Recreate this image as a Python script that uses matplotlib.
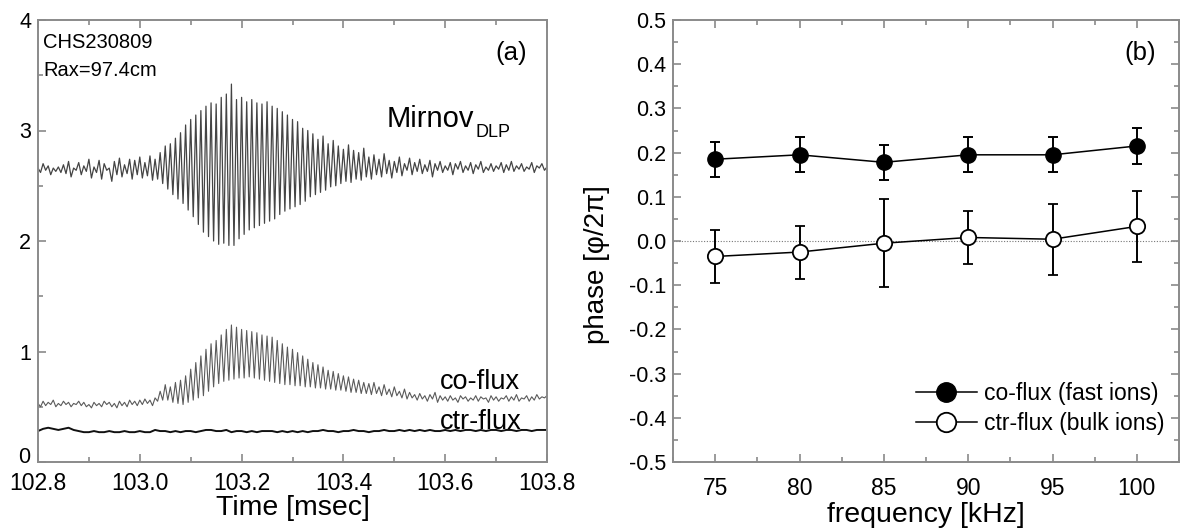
import numpy as np
import matplotlib
matplotlib.use("Agg")
import matplotlib.pyplot as plt
from matplotlib.lines import Line2D
from matplotlib.ticker import MultipleLocator, FormatStrFormatter, FuncFormatter

plt.rcParams["font.family"] = ["Liberation Sans", "DejaVu Sans"]
plt.rcParams["axes.unicode_minus"] = False

# ---- panel (a): time traces, sampled every 0.005 msec (alternating peak/trough)
t_start, t_step = 102.8, 0.005
mirnov = [
    2.66, 2.62, 2.70, 2.64, 2.68, 2.60, 2.66, 2.63, 2.67, 2.62,
    2.69, 2.61, 2.72, 2.58, 2.66, 2.64, 2.71, 2.60, 2.68, 2.63,
    2.74, 2.57, 2.67, 2.62, 2.73, 2.56, 2.70, 2.64, 2.66, 2.54,
    2.72, 2.60, 2.75, 2.58, 2.69, 2.61, 2.74, 2.56, 2.73, 2.60,
    2.76, 2.57, 2.71, 2.59, 2.77, 2.55, 2.74, 2.56, 2.80, 2.52,
    2.86, 2.47, 2.88, 2.42, 2.93, 2.38, 2.98, 2.34, 3.05, 2.28,
    3.10, 2.22, 3.14, 2.15, 3.18, 2.08, 3.22, 2.04, 3.25, 2.00,
    3.24, 1.97, 3.30, 1.98, 3.33, 1.96, 3.42, 1.96, 3.28, 2.02,
    3.30, 2.06, 3.26, 2.10, 3.28, 2.12, 3.25, 2.14, 3.24, 2.16,
    3.26, 2.18, 3.22, 2.20, 3.20, 2.24, 3.17, 2.27, 3.14, 2.29,
    3.10, 2.31, 3.08, 2.33, 3.02, 2.36, 3.00, 2.40, 2.97, 2.42,
    2.92, 2.44, 2.95, 2.46, 2.88, 2.49, 2.91, 2.50, 2.86, 2.52,
    2.83, 2.54, 2.87, 2.53, 2.82, 2.56, 2.80, 2.55, 2.84, 2.58,
    2.76, 2.56, 2.78, 2.60, 2.74, 2.58, 2.79, 2.61, 2.73, 2.57,
    2.72, 2.62, 2.76, 2.59, 2.70, 2.64, 2.75, 2.60, 2.71, 2.63,
    2.74, 2.61, 2.69, 2.63, 2.73, 2.58, 2.70, 2.64, 2.72, 2.62,
    2.68, 2.64, 2.71, 2.60, 2.70, 2.65, 2.72, 2.62, 2.68, 2.64,
    2.71, 2.61, 2.69, 2.65, 2.72, 2.62, 2.67, 2.64, 2.70, 2.63,
    2.68, 2.65, 2.71, 2.62, 2.69, 2.64, 2.72, 2.63, 2.68, 2.65,
    2.70, 2.63, 2.67, 2.65, 2.71, 2.62, 2.68, 2.66, 2.70, 2.64,
    2.67,
]
co_flux = [
    0.53, 0.50, 0.55, 0.51, 0.54, 0.52, 0.56, 0.50, 0.53, 0.51,
    0.55, 0.52, 0.54, 0.50, 0.53, 0.52, 0.55, 0.51, 0.54, 0.50,
    0.52, 0.49, 0.54, 0.51, 0.53, 0.50, 0.55, 0.52, 0.54, 0.50,
    0.53, 0.49, 0.55, 0.51, 0.54, 0.50, 0.56, 0.52, 0.55, 0.51,
    0.56, 0.52, 0.57, 0.53, 0.56, 0.51, 0.58, 0.55, 0.64, 0.56,
    0.70, 0.56, 0.68, 0.54, 0.72, 0.53, 0.74, 0.52, 0.78, 0.54,
    0.84, 0.56, 0.90, 0.58, 0.96, 0.60, 1.02, 0.64, 1.07, 0.68,
    1.10, 0.71, 1.15, 0.73, 1.20, 0.74, 1.24, 0.75, 1.22, 0.76,
    1.20, 0.76, 1.19, 0.77, 1.18, 0.76, 1.17, 0.75, 1.15, 0.74,
    1.14, 0.73, 1.13, 0.72, 1.10, 0.71, 1.07, 0.70, 1.04, 0.70,
    1.02, 0.69, 0.99, 0.69, 0.96, 0.68, 0.93, 0.68, 0.90, 0.67,
    0.88, 0.67, 0.86, 0.66, 0.83, 0.66, 0.82, 0.65, 0.80, 0.65,
    0.78, 0.64, 0.77, 0.63, 0.75, 0.63, 0.74, 0.62, 0.72, 0.62,
    0.71, 0.61, 0.72, 0.62, 0.68, 0.60, 0.70, 0.61, 0.66, 0.59,
    0.68, 0.60, 0.64, 0.58, 0.66, 0.57, 0.63, 0.58, 0.61, 0.56,
    0.62, 0.57, 0.60, 0.55, 0.61, 0.57, 0.63, 0.54, 0.60, 0.56,
    0.59, 0.55, 0.60, 0.56, 0.58, 0.54, 0.60, 0.57, 0.59, 0.55,
    0.58, 0.56, 0.60, 0.55, 0.59, 0.57, 0.58, 0.54, 0.60, 0.56,
    0.59, 0.55, 0.58, 0.57, 0.60, 0.55, 0.59, 0.56, 0.61, 0.55,
    0.58, 0.57, 0.60, 0.55, 0.59, 0.56, 0.61, 0.57, 0.59, 0.58,
    0.60,
]
# ctr-flux sampled every 0.01 msec
ctr_step = 0.01
ctr_flux = [
    0.28, 0.30, 0.31, 0.30, 0.29, 0.30, 0.31, 0.29, 0.28, 0.27,
    0.27, 0.28, 0.27, 0.27, 0.28, 0.27, 0.27, 0.28, 0.27, 0.27,
    0.28, 0.27, 0.27, 0.29, 0.28, 0.28, 0.27, 0.28, 0.27, 0.28,
    0.28, 0.27, 0.28, 0.29, 0.29, 0.28, 0.28, 0.29, 0.27, 0.28,
    0.28, 0.27, 0.28, 0.27, 0.28, 0.28, 0.28, 0.27, 0.28, 0.27,
    0.28, 0.27, 0.28, 0.27, 0.28, 0.28, 0.29, 0.28, 0.28, 0.27,
    0.28, 0.28, 0.29, 0.28, 0.28, 0.27, 0.28, 0.28, 0.29, 0.28,
    0.28, 0.29, 0.28, 0.29, 0.28, 0.29, 0.28, 0.29, 0.28, 0.28,
    0.29, 0.28, 0.29, 0.28, 0.29, 0.29, 0.28, 0.29, 0.28, 0.29,
    0.29, 0.28, 0.29, 0.29, 0.28, 0.29, 0.29, 0.28, 0.29, 0.29,
    0.29,
]

# ---- panel (b): phase vs frequency
freq = [75, 80, 85, 90, 95, 100]
co_phase = [0.185, 0.195, 0.178, 0.195, 0.195, 0.215]
co_err = [0.04, 0.04, 0.04, 0.04, 0.04, 0.04]
ctr_phase = [-0.035, -0.025, -0.005, 0.008, 0.004, 0.033]
ctr_err = [0.06, 0.06, 0.10, 0.06, 0.08, 0.08]

spine_gray = "#8a8a8a"

fig = plt.figure(figsize=(11.8, 5.31), dpi=100)
ax1 = fig.add_axes([38 / 1180, 69 / 531, 509 / 1180, 442 / 531])
ax2 = fig.add_axes([673 / 1180, 69 / 531, 506 / 1180, 442 / 531])

for ax in (ax1, ax2):
    for sp in ax.spines.values():
        sp.set_color(spine_gray)
        sp.set_linewidth(1.4)
    ax.tick_params(which="both", direction="in", color=spine_gray, width=1.2)
    ax.tick_params(which="major", length=6)
    ax.tick_params(which="minor", length=3.5)

# panel (a)
t = t_start + t_step * np.arange(len(mirnov))
tc = t_start + ctr_step * np.arange(len(ctr_flux))
ax1.plot(t, mirnov, color="#444444", lw=0.9)
ax1.plot(t, co_flux, color="#5a5a5a", lw=0.8)
ax1.plot(tc, ctr_flux, color="#111111", lw=1.4)

ax1.set_xlim(102.8, 103.8)
ax1.set_ylim(0, 4)
ax1.xaxis.set_major_locator(MultipleLocator(0.2))
ax1.xaxis.set_minor_locator(MultipleLocator(0.1))
ax1.xaxis.set_major_formatter(FormatStrFormatter("%.1f"))
ax1.yaxis.set_major_locator(MultipleLocator(1))
ax1.yaxis.set_minor_locator(MultipleLocator(0.5))
# the "0" label sits in the corner, drawn separately a touch higher
ax1.yaxis.set_major_formatter(FuncFormatter(lambda v, p: "" if v == 0 else "%d" % v))
ax1.tick_params(top=True, which="both")
ax1.tick_params(axis="x", labelsize=16.5, pad=7)
ax1.tick_params(axis="y", labelsize=15.5, pad=5)
ax1.annotate("0", xy=(0, 0), xycoords="axes fraction", xytext=(-5.5, 3),
             textcoords="offset points", ha="right", va="center", fontsize=15.5)
ax1.set_xlabel("Time [msec]", fontsize=20.5, labelpad=0)

ax1.text(0.01, 0.95, "CHS230809", transform=ax1.transAxes, fontsize=14.5, va="center")
ax1.text(0.01, 0.885, "Rax=97.4cm", transform=ax1.transAxes, fontsize=14.5, va="center")
ax1.text(0.96, 0.925, "(a)", transform=ax1.transAxes, fontsize=18.5, ha="right", va="center")
mtxt = ax1.text(103.485, 3.1, "Mirnov", fontsize=21, va="center")
ax1.annotate("DLP", xy=(1, 0), xycoords=mtxt, xytext=(1, 1), textcoords="offset points",
             fontsize=13, va="center")
ax1.text(103.59, 0.72, "co-flux", fontsize=19.5, va="center")
ax1.text(103.59, 0.36, "ctr-flux", fontsize=19.5, va="center")

# panel (b)
ax2.axhline(0, color="#777777", lw=0.8, ls=(0, (1, 1.5)), zorder=1)
ax2.errorbar(freq, co_phase, yerr=co_err, fmt="-o", color="black", mfc="black",
             mec="black", ms=11, lw=1.1, elinewidth=1.4, capsize=3.6, capthick=1.4, zorder=3)
ax2.errorbar(freq, ctr_phase, yerr=ctr_err, fmt="-o", color="black", mfc="white",
             mec="black", mew=1.3, ms=11, lw=1.1, elinewidth=1.4, capsize=3.6, capthick=1.4, zorder=3)

ax2.set_xlim(72.5, 102.5)
ax2.set_ylim(-0.5, 0.5)
ax2.xaxis.set_major_locator(MultipleLocator(5))
ax2.xaxis.set_minor_locator(MultipleLocator(2.5))
ax2.yaxis.set_major_locator(MultipleLocator(0.1))
ax2.yaxis.set_minor_locator(MultipleLocator(0.05))
ax2.yaxis.set_major_formatter(FormatStrFormatter("%.1f"))
ax2.tick_params(top=True, right=True, which="both")
ax2.tick_params(axis="x", labelsize=16.5, pad=11)
ax2.tick_params(axis="y", labelsize=15.5, pad=5)
ax2.set_xlabel("frequency [kHz]", fontsize=20.5, labelpad=1)
ax2.set_ylabel("phase [φ/2π]", fontsize=20)
ax2.yaxis.set_label_coords(-0.125, 0.447)
ax2.text(0.955, 0.925, "(b)", transform=ax2.transAxes, fontsize=18.5, ha="right", va="center")

h1 = Line2D([], [], color="black", marker="o", mfc="black", mec="black", ms=14, lw=1.1)
h2 = Line2D([], [], color="black", marker="o", mfc="white", mec="black", mew=1.3, ms=14, lw=1.1)
ax2.legend([h1, h2], ["co-flux (fast ions)", "ctr-flux (bulk ions)"], loc="lower right",
           bbox_to_anchor=(0.99, 0.04), frameon=False, fontsize=16.5, handlelength=2.7,
           handletextpad=0.3, labelspacing=0.3, borderaxespad=0)

fig.savefig("out.png", dpi=100)
